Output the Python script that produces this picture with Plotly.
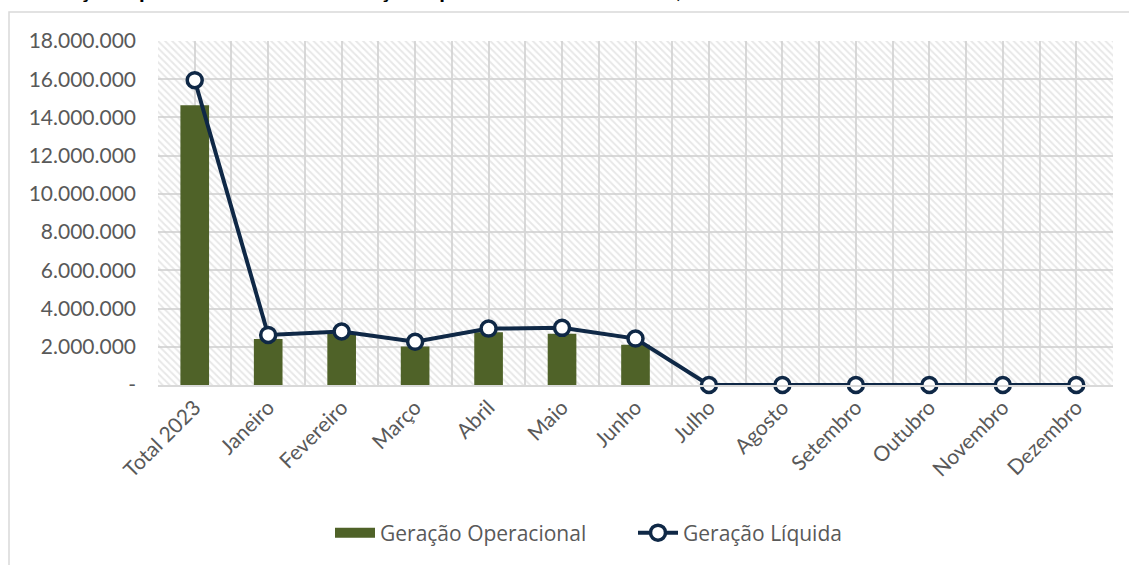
import plotly.graph_objects as go

# ---------------- data ----------------
categories = ["Total 2023", "Janeiro", "Fevereiro", "Março", "Abril", "Maio", "Junho",
              "Julho", "Agosto", "Setembro", "Outubro", "Novembro", "Dezembro"]
geracao_operacional = [14_640_000, 2_410_000, 2_700_000, 2_010_000, 2_760_000, 2_680_000, 2_100_000,
                       0, 0, 0, 0, 0, 0]
geracao_liquida = [15_950_000, 2_620_000, 2_800_000, 2_260_000, 2_950_000, 2_990_000, 2_430_000,
                   0, 0, 0, 0, 0, 0]
y_tick_values = [0, 2_000_000, 4_000_000, 6_000_000, 8_000_000, 10_000_000,
                 12_000_000, 14_000_000, 16_000_000, 18_000_000]
y_tick_labels = ["-" if v == 0 else f"{v:,.0f}".replace(",", ".") for v in y_tick_values]
title_text = "Geração Operacional Bruta x Geração Operacional Consolidada, 2023"

# --------------- styling ---------------
W, H = 1129, 565
L, R, T, B = 158, 16, 41, 180
plot_w, plot_h = W - L - R, H - T - B
GREEN = "#4F6228"
NAVY = "#0F2846"
GRID = "#D9D9D9"
TXT = "#595959"

def px_x(px):
    return (px - L) / plot_w

def px_y(py):
    return (H - B - py) / plot_h

x_idx = list(range(len(categories)))
y_max = y_tick_values[-1]

fig = go.Figure()

# hatched background of the plot area
fig.add_trace(go.Bar(
    x=x_idx, y=[y_max] * len(categories), width=1,
    marker=dict(color="rgba(0,0,0,0)", line=dict(width=0),
                pattern=dict(shape="\\", fgcolor="#D0D0D0", bgcolor="rgba(0,0,0,0)",
                             size=5, solidity=0.38)),
    hoverinfo="skip", showlegend=False,
))

fig.add_trace(go.Bar(
    x=x_idx, y=geracao_operacional, width=0.39,
    name="Geração Operacional", legendgroup="op", showlegend=False,
    marker=dict(color=GREEN, line=dict(width=0)),
))
# legend swatch (wide rectangle look) for the bar series
fig.add_trace(go.Scatter(
    x=[None], y=[None], mode="lines", name="Geração Operacional", legendgroup="op",
    line=dict(color=GREEN, width=14), hoverinfo="skip",
))

fig.add_trace(go.Scatter(
    x=x_idx, y=geracao_liquida, mode="lines+markers",
    name="Geração Líquida",
    line=dict(color=NAVY, width=4),
    marker=dict(symbol="circle", size=15, color="white", line=dict(color=NAVY, width=3.5)),
    cliponaxis=False,
))

fig.update_layout(
    width=W, height=H,
    margin=dict(l=L, r=R, t=T, b=B, autoexpand=False),
    paper_bgcolor="white", plot_bgcolor="white",
    barmode="overlay",
    font=dict(family="Lato, Open Sans, sans-serif", color=TXT, size=21),
    legend=dict(orientation="h", x=px_x(330), y=px_y(533), xanchor="left", yanchor="middle",
                font=dict(family="Open Sans, sans-serif", size=21, color=TXT),
                entrywidth=248, entrywidthmode="pixels", itemwidth=40,
                tracegroupgap=0, bgcolor="rgba(0,0,0,0)"),
    xaxis=dict(
        range=[-0.5, len(categories) - 0.5],
        tickmode="array", tickvals=x_idx, ticktext=categories,
        tickangle=-45, showgrid=True, gridcolor=GRID, gridwidth=1.5,
        minor=dict(tick0=-0.5, dtick=1, showgrid=True, gridcolor=GRID, gridwidth=1.5),
        showline=True, linecolor=GRID, linewidth=2,
        zeroline=False, ticks="", tickfont=dict(size=21, color=TXT),
    ),
    yaxis=dict(
        range=[0, y_max], tickmode="array", tickvals=y_tick_values, ticktext=y_tick_labels,
        showgrid=True, gridcolor=GRID, gridwidth=1.5, zeroline=False,
        showline=False, ticks="", ticklabelstandoff=21,
        tickfont=dict(size=21, color=TXT),
    ),
    shapes=[dict(type="rect", xref="paper", yref="paper",
                 x0=px_x(9), x1=px_x(1140), y0=px_y(600), y1=px_y(12),
                 line=dict(color=GRID, width=1.5), fillcolor="rgba(0,0,0,0)", layer="below")],
    annotations=[dict(text=f"<b>{title_text}</b>", xref="paper", yref="paper",
                      x=px_x(28), y=px_y(-11), xanchor="left", yanchor="middle",
                      showarrow=False, font=dict(family="Lato, sans-serif", size=23, color="black"))],
)

fig.write_html("out.html", config={"displayModeBar": False},
               post_script="document.body.style.margin='0';")
